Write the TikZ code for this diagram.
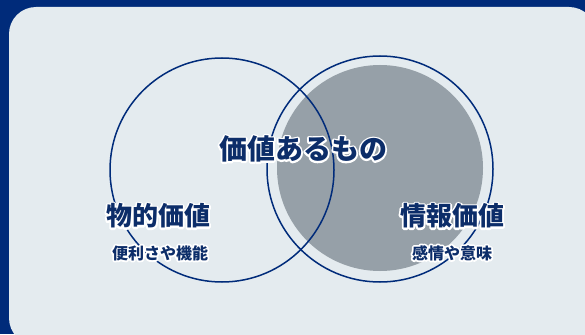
\documentclass[tikz,border=0pt]{standalone}
\usepackage{fontspec}
\newfontfamily\cjk{Noto Sans CJK JP}
\definecolor{navy}{RGB}{0,43,122}
\definecolor{textnavy}{RGB}{12,45,105}
\definecolor{panel}{RGB}{228,235,239}
\definecolor{disc}{RGB}{150,160,168}
\tikzset{
  ring/.style={draw=navy,line width=1.5pt},
  bigfont/.style={font=\cjk\bfseries\fontsize{28}{32}\selectfont},
  midfont/.style={font=\cjk\bfseries\fontsize{26}{30}\selectfont},
  smallfont/.style={font=\cjk\bfseries\fontsize{16}{19}\selectfont},
  lbl/.style={inner sep=0pt,text=textnavy},
}
\newcommand\halonode[4]{%
  \node[#3,inner sep=0pt,text=white] at (#2)
    {\special{pdf:literal direct 2 Tr 3.6 w 1 j}#4\special{pdf:literal direct 0 Tr 1 w}};
  \node[#3,lbl] (#1) at (#2) {#4};}
\begin{document}
\begin{tikzpicture}[x=1pt,y=-1pt]
\useasboundingbox (0,0) rectangle (585,334);
\clip (0,0) rectangle (585,334);
\fill[navy] (0,0) rectangle (585,334);
\fill[panel,rounded corners=27pt] (9,7) rectangle (596,345);
\fill[disc] (380,168) circle[radius=103];
\draw[ring] (222,170) circle[radius=112];
\draw[ring] (380,169) circle[radius=113];
\halonode{main}{303,149}{bigfont}{価値あるもの}
\halonode{phys}{158,216}{midfont}{物的価値}
\halonode{physsub}{160,253}{smallfont}{便利さや機能}
\halonode{info}{452,216}{midfont}{情報価値}
\halonode{infosub}{452,253}{smallfont}{感情や意味}
\end{tikzpicture}
\end{document}
